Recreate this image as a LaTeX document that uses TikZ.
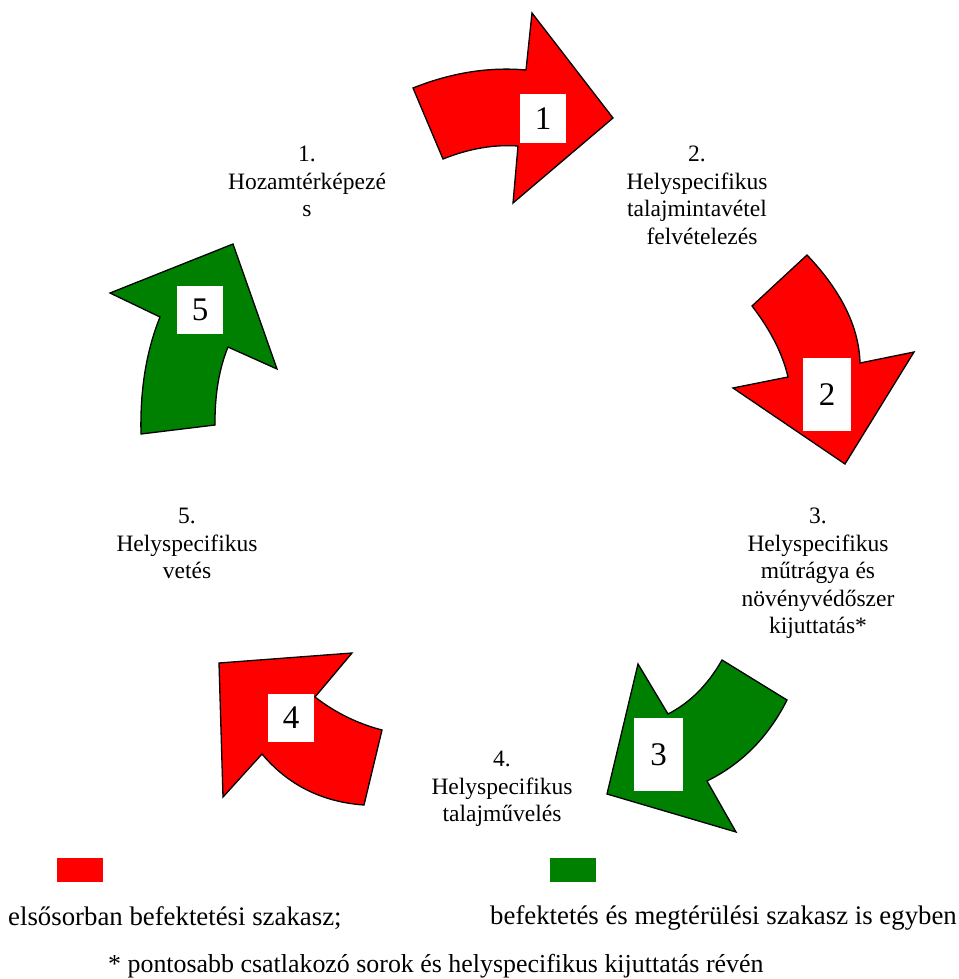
\documentclass[tikz,border=0pt]{standalone}
\usepackage{fontspec}
\setmainfont{Liberation Serif}
\newfontfamily\tnr{Liberation Serif}
\definecolor{ared}{RGB}{255,0,0}
\definecolor{agreen}{RGB}{0,128,0}
\begin{document}
\begin{tikzpicture}[x=1pt,y=-1pt,
  arrowshape/.style={draw=black, line width=1.3pt, line join=miter},
  redarrow/.style={arrowshape, fill=ared},
  greenarrow/.style={arrowshape, fill=agreen},
  numbox/.style={fill=white, inner sep=0pt, font=\tnr\fontsize{33}{33}\selectfont},
  lbl/.style={align=center, inner sep=0pt, font=\tnr\fontsize{23.5}{27.5}\selectfont},
  txt/.style={inner sep=0pt, font=\tnr\fontsize{26.8}{30}\selectfont}]
\useasboundingbox (0,0) rectangle (958,979);

% Arrow 1 (red, top)
\draw[redarrow] (413,88) .. controls (451.3,72.7) and (489,66.7) .. (526,70) -- (532,13) -- (613,118) -- (513,203) -- (518,146)
  .. controls (493.7,144.3) and (468.7,148.7) .. (443,159) -- cycle;
% Arrow 2 (red, right)
\draw[redarrow] (807,255) .. controls (841.3,291) and (859,327) .. (860,363) -- (914,352) -- (845,464) -- (733,388) -- (788,377)
  .. controls (782.7,354) and (770.7,330.3) .. (752,306) -- cycle;
% Arrow 3 (green, lower right)
\draw[greenarrow] (722,660) -- (787,700) .. controls (768.3,737) and (741.7,764) .. (707,781) -- (736,832) -- (607,794) -- (638,664)
  -- (668,714) .. controls (690,702.7) and (708,684.7) .. cycle;
% Arrow 4 (red, lower left)
\draw[redarrow] (352,653) -- (219,663) -- (223,797) -- (262,754) .. controls (288,785) and (322,802) .. (364,805) -- (382,730)
  .. controls (357.7,723.7) and (335.3,712.7) .. (315,697) -- cycle;
% Arrow 5 (green, left)
\draw[greenarrow] (233,244) -- (277,369) -- (228,347) .. controls (219,369) and (214.7,395) .. (215,425) -- (141,434)
  .. controls (140,391.7) and (145.7,352.7) .. (160,317) -- (110,293) -- cycle;

% number boxes
\node[numbox, minimum width=46pt, minimum height=49pt] (n1) at (543,118.5) {1};
\node[numbox, minimum width=48pt, minimum height=73pt] (n2) at (827,394.5) {2};
\node[numbox, minimum width=49pt, minimum height=73pt] (n3) at (658.5,754.5) {3};
\node[numbox, minimum width=46pt, minimum height=48pt] (n4) at (291,718) {4};
\node[numbox, minimum width=46pt, minimum height=48pt] (n5) at (200,310) {5};

% step labels
\node[lbl, anchor=north] (l1) at (307,146) {1.\\Hozamtérképezé\\s};
\node[lbl, anchor=north] (l2) at (697,146) {2.\\Helyspecifikus\\talajmintavétel\\\hspace*{10pt}felvételezés};
\node[lbl, anchor=north] (l3) at (818,508) {3.\\Helyspecifikus\\műtrágya és\\növényvédőszer\\kijuttatás*};
\node[lbl, anchor=north] (l4) at (502,751) {4.\\Helyspecifikus\\talajművelés};
\node[lbl, anchor=north] (l5) at (187,508) {5.\\Helyspecifikus\\vetés};

% legend
\node[fill=ared, minimum width=46pt, minimum height=24pt, inner sep=0pt] (kr) at (80,870) {};
\node[fill=agreen, minimum width=46pt, minimum height=24pt, inner sep=0pt] (kg) at (573,870) {};
\node[txt, anchor=west] (tr) at (8,918) {elsősorban befektetési szakasz;};
\node[txt, anchor=west] (tg) at (490,918) {befektetés és megtérülési szakasz is egyben};
\node[txt, anchor=west, font=\tnr\fontsize{25.9}{30}\selectfont] (note) at (108,966) {* pontosabb csatlakozó sorok és helyspecifikus kijuttatás révén};
\end{tikzpicture}
\end{document}
